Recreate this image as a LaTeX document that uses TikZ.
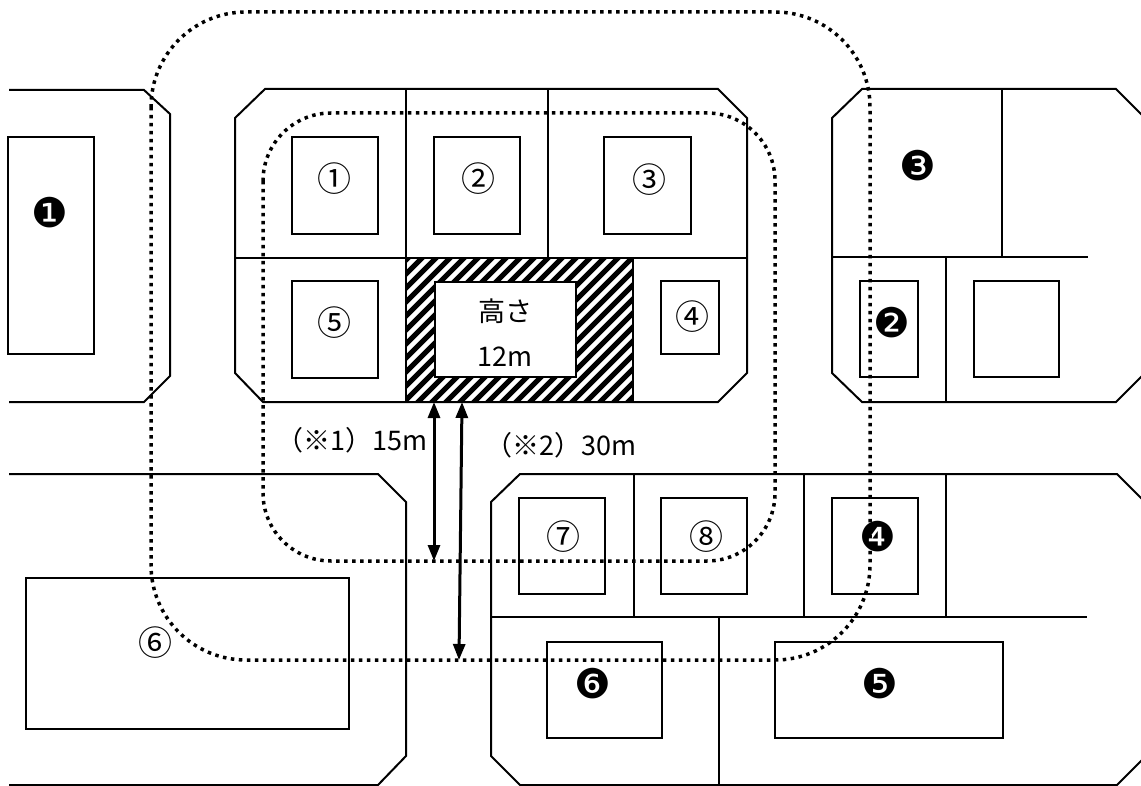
\documentclass[tikz,border=0pt]{standalone}
\usepackage{fontspec}
\newfontfamily\jpfont{Noto Sans CJK JP}
\newfontfamily\djfont{DejaVu Sans}
\usetikzlibrary{arrows.meta}
\tikzset{
  bline/.style={line width=2pt, line join=miter},
  thinline/.style={line width=1.7pt},
  bldg/.style={draw, line width=2pt, fill=white},
  dotline/.style={line width=3.5pt, dash pattern=on 3.5pt off 4.5pt},
  dimarrow/.style={line width=3pt, {Triangle[length=16pt,width=12pt]}-{Triangle[length=16pt,width=12pt]}},
  wlabel/.style={font=\jpfont\fontsize{34pt}{36pt}\selectfont, inner sep=0pt},
  blabel/.style={font=\djfont\fontsize{41pt}{43pt}\selectfont, inner sep=0pt},
  txt/.style={font=\jpfont\fontsize{27pt}{29pt}\selectfont, inner sep=0pt},
  dimtxt/.style={font=\jpfont\fontsize{27pt}{29pt}\selectfont, inner sep=0pt},
}
\begin{document}
\begin{tikzpicture}[x=1pt,y=-1pt]
\useasboundingbox (0,0) rectangle (1141,786);
\clip (0,0) rectangle (1141,786);
\fill[white] (0,0) rectangle (1141,786);

% ---- Block A (left, top)
\draw[bline] (9,90) -- (144,90) -- (170,114) -- (170,376) -- (144,402) -- (9,402);
\draw[bldg] (8,137) rectangle (94,354);
\node[blabel] (nA1) at (50,213) {❶};

% ---- Block B (center, top)
\draw[bline] (265,89) -- (718,89) -- (747,118) -- (747,373) -- (718,402) -- (263,402) -- (235,373) -- (235,118) -- cycle;
\draw[thinline] (406,89) -- (406,258);
\draw[thinline] (548,89) -- (548,258);
\draw[thinline] (235,258) -- (747,258);
% hatched building
\begin{scope}
  \clip (406,258) rectangle (633,402);
  \foreach \i in {0,...,28} {
    \draw[line width=5pt] (262+\i*14,404) -- ++(150,-150);
  }
\end{scope}
\draw[thinline] (406,258) -- (406,402);
\draw[thinline] (633,258) -- (633,402);
\draw[bldg] (435,282) rectangle (576,377);
\node[txt] (height) at (505,311) {高さ};
\node[txt] (hval) at (505,357) {12m};

\draw[bldg] (292,137) rectangle (378,234);
\node[wlabel] (n1) at (334,179) {①};
\draw[bldg] (434,137) rectangle (520,234);
\node[wlabel] (n2) at (478,179) {②};
\draw[bldg] (604,137) rectangle (691,234);
\node[wlabel] (n3) at (649,180) {③};
\draw[bldg] (292,281) rectangle (378,378);
\node[wlabel] (n5) at (334,323) {⑤};
\draw[bldg] (661,281) rectangle (719,354);
\node[wlabel] (n4) at (692,317) {④};

% ---- Block C (right, top)
\draw[bline] (1150,123) -- (1116,89) -- (862,89) -- (832,118) -- (832,373) -- (862,402) -- (1116,402) -- (1150,368);
\draw[thinline] (1002,89) -- (1002,257);
\draw[thinline] (832,257) -- (1088,257);
\draw[thinline] (946,257) -- (946,402);
\node[blabel] (nB3) at (918,166) {❸};
\draw[bldg] (860,281) rectangle (918,377);
\node[blabel] (nB2) at (892,323) {❷};
\draw[bldg] (974,281) rectangle (1059,377);

% ---- Block D (bottom left)
\draw[bline] (9,474) -- (378,474) -- (406,502) -- (406,756) -- (378,785) -- (9,785);
\draw[bldg] (26,578) rectangle (349,729);
\node[wlabel] (n6) at (155,643) {⑥};

% ---- Block E (bottom right)
\draw[bline] (1150,507) -- (1117,474) -- (520,474) -- (491,502) -- (491,756) -- (520,785) -- (1117,785) -- (1150,752);
\draw[thinline] (634,474) -- (634,617);
\draw[thinline] (804,474) -- (804,617);
\draw[thinline] (946,474) -- (946,617);
\draw[thinline] (491,617) -- (1087,617);
\draw[thinline] (719,617) -- (719,785);
\draw[bldg] (519,498) rectangle (605,594);
\node[wlabel] (n7) at (563,537) {⑦};
\draw[bldg] (661,498) rectangle (747,594);
\node[wlabel] (n8) at (706,537) {⑧};
\draw[bldg] (832,498) rectangle (918,594);
\draw[bldg] (547,642) rectangle (662,738);
\node[blabel] (nB6) at (593,684) {❻};
\draw[bldg] (775,642) rectangle (1003,738);
\node[blabel] (nB5) at (880,684) {❺};

% ---- dotted zones
\draw[dotline, rounded corners=68pt] (263,113) rectangle (775,561);
\draw[dotline, rounded corners=95pt] (151,12) rectangle (870,660);
\node[blabel] (nB4) at (878,537) {❹};

% ---- dimension arrows
\coordinate (a1t) at (434,402);
\coordinate (a1b) at (434,561);
\coordinate (a2t) at (462,402);
\coordinate (a2b) at (459,660);
\draw[dimarrow] (a1t) -- (a1b);
\draw[dimarrow] (a2t) -- (a2b);
\node[dimtxt] (d1) at (352,440) {（※1）15m};
\node[dimtxt] (d2) at (561,445) {（※2）30m};
\end{tikzpicture}
\end{document}
